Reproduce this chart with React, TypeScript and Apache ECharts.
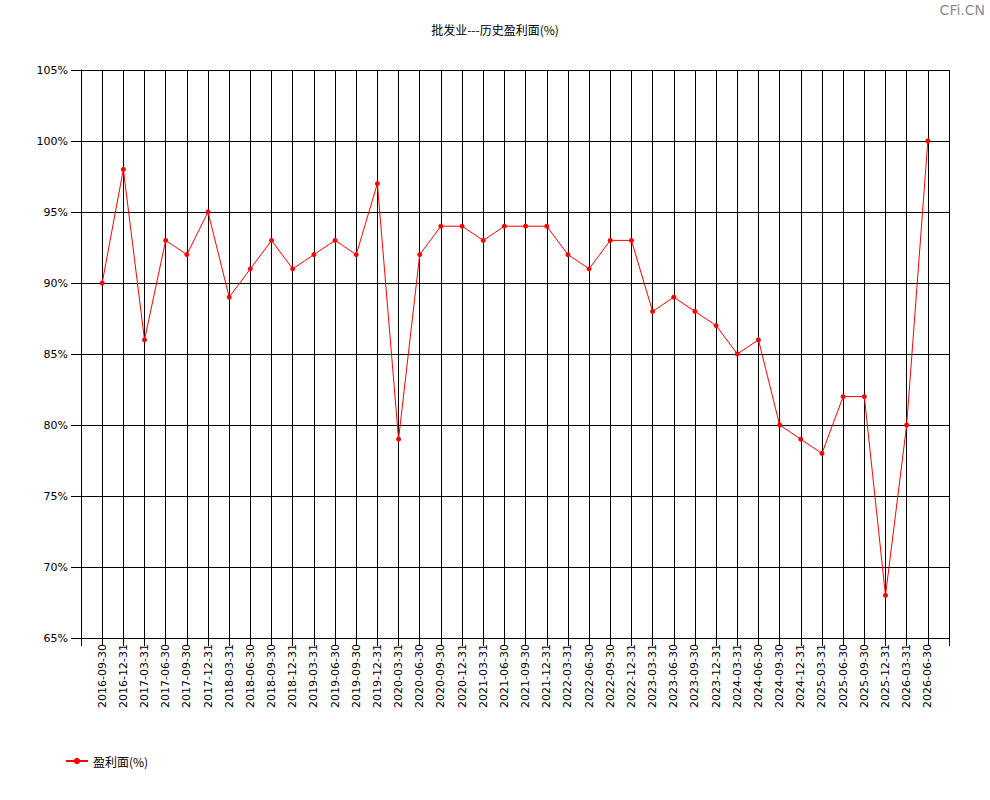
import React, { useEffect, useRef } from "react";
import * as echarts from "echarts";

const categories = [
  "2016-09-30", "2016-12-31", "2017-03-31", "2017-06-30", "2017-09-30", "2017-12-31",
  "2018-03-31", "2018-06-30", "2018-09-30", "2018-12-31", "2019-03-31", "2019-06-30",
  "2019-09-30", "2019-12-31", "2020-03-31", "2020-06-30", "2020-09-30", "2020-12-31",
  "2021-03-31", "2021-06-30", "2021-09-30", "2021-12-31", "2022-03-31", "2022-06-30",
  "2022-09-30", "2022-12-31", "2023-03-31", "2023-06-30", "2023-09-30", "2023-12-31",
  "2024-03-31", "2024-06-30", "2024-09-30", "2024-12-31", "2025-03-31", "2025-06-30",
  "2025-09-30", "2025-12-31", "2026-03-31", "2026-06-30",
];

const profitValues = [
  90, 98, 86, 93, 92, 95,
  89, 91, 93, 91, 92, 93,
  92, 97, 79, 92, 94, 94,
  93, 94, 94, 94, 92, 91,
  93, 93, 88, 89, 88, 87,
  85, 86, 80, 79, 78, 82,
  82, 68, 80, 100,
];

const titleText = "批发业---历史盈利面(%)";
const seriesName = "盈利面(%)";
const watermark = "CFi.CN";

const FONT = "'DejaVu Sans', 'Noto Sans CJK SC', sans-serif";

export default function App() {
  const ref = useRef<HTMLDivElement>(null);

  useEffect(() => {
    document.body.style.margin = "0";
    if (!ref.current) return;
    const chart = echarts.init(ref.current, null, { renderer: "svg" });
    const xData = ["", ...categories, ""];
    const yData = [null, ...profitValues, null];
    chart.setOption({
      animation: false,
      backgroundColor: "#ffffff",
      textStyle: { fontFamily: FONT },
      title: {
        text: titleText,
        left: "center",
        top: 18,
        textStyle: { fontSize: 12, fontWeight: "normal", color: "#000", fontFamily: "'Noto Sans CJK SC', sans-serif" },
      },
      graphic: [
        {
          type: "text",
          right: 5,
          top: 3,
          style: { text: watermark, fontSize: 14, fill: "#8c8c8c", fontFamily: FONT },
        },
      ],
      legend: {
        left: 60,
        top: 750,
        itemWidth: 22,
        itemHeight: 8,
        itemGap: 5,
        data: [seriesName],
        textStyle: { fontSize: 12, color: "#000", fontFamily: "'Noto Sans CJK SC', sans-serif" },
      },
      grid: { left: 81, right: 41, top: 70, bottom: 162, containLabel: false },
      xAxis: {
        type: "category",
        data: xData,
        boundaryGap: false,
        axisLine: { show: true, lineStyle: { color: "#000", width: 1 } },
        axisTick: { show: true, interval: 0, length: 8, lineStyle: { color: "#000" } },
        splitLine: { show: true, interval: 0, lineStyle: { color: "#000", width: 1 } },
        axisLabel: {
          interval: 0,
          rotate: 90,
          fontSize: 11,
          color: "#000",
          margin: 6,
          fontFamily: FONT,
        },
      },
      yAxis: {
        type: "value",
        min: 65,
        max: 105,
        interval: 5,
        axisLine: { show: true, lineStyle: { color: "#000", width: 1 } },
        axisTick: { show: true, length: 10, lineStyle: { color: "#000" } },
        splitLine: { show: true, lineStyle: { color: "#000", width: 1 } },
        axisLabel: {
          formatter: "{value}%",
          fontSize: 11,
          color: "#000",
          margin: 13,
          fontFamily: FONT,
        },
      },
      series: [
        {
          name: seriesName,
          type: "line",
          data: yData,
          connectNulls: false,
          symbol: "circle",
          symbolSize: 5,
          showSymbol: true,
          itemStyle: { color: "#ff0000" },
          lineStyle: { color: "#ff0000", width: 1 },
        },
      ],
    });
    return () => chart.dispose();
  }, []);

  return <div ref={ref} style={{ width: 990, height: 800 }} />;
}
